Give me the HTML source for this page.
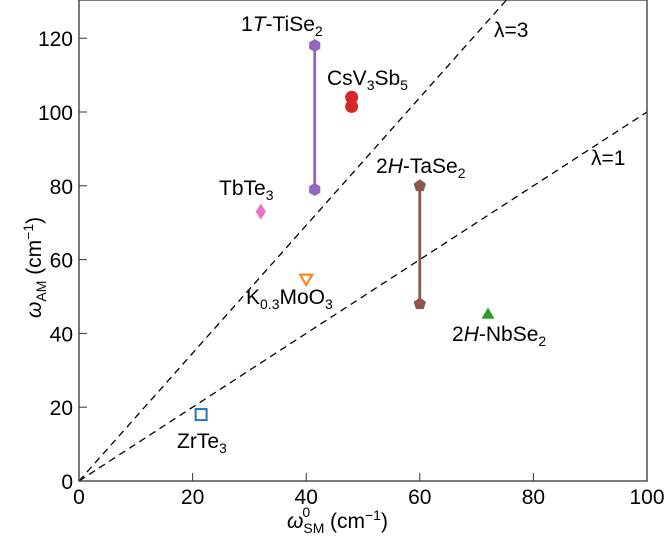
<!DOCTYPE html>
<html><head><meta charset="utf-8"><style>
body{margin:0;background:#fff}
svg{display:block;font-family:"Liberation Sans",sans-serif}
</style></head><body>
<svg id="c" width="666" height="542" style="position:absolute;left:0;top:0"></svg>
<script>
const xTicks=[0,20,40,60,80,100];
const yTicks=[0,20,40,60,80,100,120];
const lambdaLabels=["λ=3","λ=1"];
const lambdaSlopes=[1.732,1];
const seriesNames=["TiSe2","CsV3Sb5","TbTe3","K0.3MoO3","TaSe2","NbSe2","ZrTe3"];
const seriesX=[[41.5,41.5],[48,48],[32],[40],[60,60],[72],[21.5]];
const seriesY=[[118,79],[104,101.5],[73],[55],[80,48],[45],[18]];
const seriesColors=["#9467bd","#d62728","#e377c2","#ff7f0e","#8c564b","#2ca02c","#1f77b4"];
const seriesShapes=["hex","circle","diamond","tridown","pent","triup","square"];
const X0=79,X1=647,Y0=481,YT=0;
const xs=v=>X0+v*(X1-X0)/100;
const ys=v=>Y0-v*3.69;
const NS="http://www.w3.org/2000/svg";
const svg=document.getElementById('c');
function mk(t,a,p){const e=document.createElementNS(NS,t);for(const k in a)e.setAttribute(k,a[k]);(p||svg).appendChild(e);return e;}
const defs=mk('defs',{});const cp=mk('clipPath',{id:'cp'},defs);mk('rect',{x:X0,y:YT,width:X1-X0,height:Y0-YT},cp);
lambdaSlopes.forEach((s,i)=>{
  const l=mk('line',{x1:xs(0),y1:ys(0),x2:xs(100),y2:ys(100*s),stroke:'#000','stroke-width':1.3,'stroke-dasharray':'7,5','clip-path':'url(#cp)'});
  
  
});
const lt1=mk('text',{x:494,y:37,'font-size':21});lt1.textContent=lambdaLabels[0];

const lt2=mk('text',{x:591,y:165,'font-size':21});lt2.textContent=lambdaLabels[1];

const fr=mk('rect',{x:X0,y:YT,width:X1-X0,height:Y0-YT,fill:'none',stroke:'#333','stroke-width':1.3});

xTicks.forEach(v=>{
  mk('line',{x1:xs(v),x2:xs(v),y1:Y0,y2:Y0-8,stroke:'#333','stroke-width':1});
  const t=mk('text',{x:xs(v),y:Y0+23,'font-size':21,'text-anchor':'middle'});t.textContent=v;
  
});
yTicks.forEach(v=>{
  mk('line',{x1:X0,x2:X0+8,y1:ys(v),y2:ys(v),stroke:'#333','stroke-width':1});
  const t=mk('text',{x:X0-6,y:ys(v)+8,'font-size':21,'text-anchor':'end'});t.textContent=v;
  
});
function poly(n,cx,cy,r,rot){let p=[];for(let k=0;k<n;k++){const a=rot+k*2*Math.PI/n;p.push((cx+r*Math.cos(a)).toFixed(1)+','+(cy+r*Math.sin(a)).toFixed(1));}return p.join(' ');}
seriesNames.forEach((n,i)=>{
  const g=mk('g',{});
  
  
  const c=seriesColors[i],X=seriesX[i],Y=seriesY[i];
  if(X.length>1&&n!=="CsV3Sb5")mk('line',{x1:xs(X[0]),y1:ys(Y[0]),x2:xs(X[1]),y2:ys(Y[1]),stroke:c,'stroke-width':2.8},g);
  X.forEach((x,j)=>{
    const cx=xs(x),cy=ys(Y[j]);let m;
    switch(seriesShapes[i]){
      case 'hex':m=mk('polygon',{points:poly(6,cx,cy,6.5,Math.PI/2),fill:c},g);break;
      case 'circle':m=mk('circle',{cx,cy,r:6.5,fill:c},g);break;
      case 'diamond':m=mk('polygon',{points:poly(4,cx,cy,8,Math.PI/2),fill:c,transform:`translate(${cx},${cy}) scale(0.65,1) translate(${-cx},${-cy})`},g);break;
      case 'tridown':m=mk('polygon',{points:poly(3,cx,cy,7,Math.PI/2),fill:'none',stroke:c,'stroke-width':2},g);break;
      case 'pent':m=mk('polygon',{points:poly(5,cx,cy,6.5,-Math.PI/2),fill:c},g);break;
      case 'triup':m=mk('polygon',{points:poly(3,cx,cy,7.5,-Math.PI/2),fill:c},g);break;
      case 'square':m=mk('rect',{x:cx-5.5,y:cy-5.5,width:11,height:11,fill:'none',stroke:c,'stroke-width':2},g);break;
    }
    
    
  });
});
</script>
<svg width="666" height="542" style="position:absolute;left:0;top:0">
<g font-size="21" fill="#000" font-family="Liberation Sans, sans-serif">
<text x="241" y="31">1<tspan font-style="italic">T</tspan>-TiSe<tspan font-size="14" dy="5">2</tspan></text>
<text x="327" y="85">CsV<tspan font-size="14" dy="5">3</tspan><tspan dy="-5">Sb</tspan><tspan font-size="14" dy="5">5</tspan></text>
<text x="219" y="195">TbTe<tspan font-size="14" dy="5">3</tspan></text>
<text x="246" y="304">K<tspan font-size="14" dy="5">0.3</tspan><tspan dy="-5">MoO</tspan><tspan font-size="14" dy="5">3</tspan></text>
<text x="376" y="173">2<tspan font-style="italic">H</tspan>-TaSe<tspan font-size="14" dy="5">2</tspan></text>
<text x="452" y="341">2<tspan font-style="italic">H</tspan>-NbSe<tspan font-size="14" dy="5">2</tspan></text>
<text x="177" y="448">ZrTe<tspan font-size="14" dy="5">3</tspan></text>
<text x="287" y="528" font-size="21"><tspan font-style="italic">ω</tspan><tspan font-size="14" dy="5">SM</tspan><tspan font-size="14" dx="-22" dy="-16">0</tspan><tspan dx="14" dy="11"> (cm</tspan><tspan font-size="14" dy="-8">−1</tspan><tspan dy="8">)</tspan></text>
<text transform="translate(41,318) rotate(-90)" font-size="21"><tspan font-style="italic">ω</tspan><tspan font-size="14" dy="5">AM</tspan><tspan dy="-5"> (cm</tspan><tspan font-size="14" dy="-8">−1</tspan><tspan dy="8">)</tspan></text>
</g></svg>
</body></html>
